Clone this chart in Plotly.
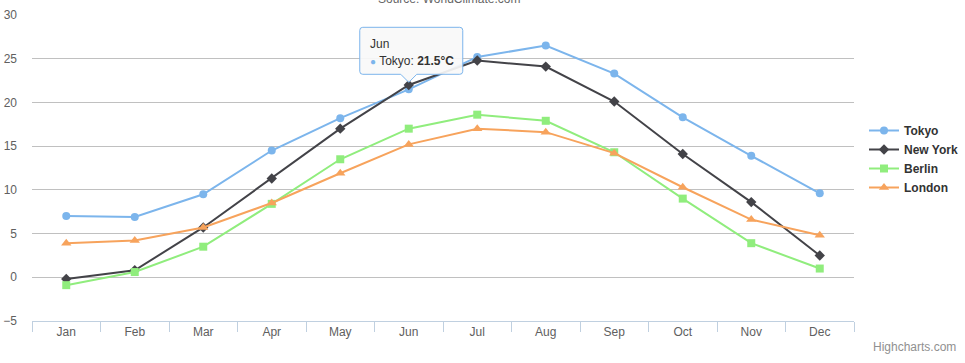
import plotly.graph_objects as go

months = ["Jan", "Feb", "Mar", "Apr", "May", "Jun", "Jul", "Aug", "Sep", "Oct", "Nov", "Dec"]
tokyo = [7.0, 6.9, 9.5, 14.5, 18.2, 21.5, 25.2, 26.5, 23.3, 18.3, 13.9, 9.6]
new_york = [-0.2, 0.8, 5.7, 11.3, 17.0, 22.0, 24.8, 24.1, 20.1, 14.1, 8.6, 2.5]
berlin = [-0.9, 0.6, 3.5, 8.4, 13.5, 17.0, 18.6, 17.9, 14.3, 9.0, 3.9, 1.0]
london = [3.9, 4.2, 5.7, 8.5, 11.9, 15.2, 17.0, 16.6, 14.2, 10.3, 6.6, 4.8]

series = [
    ("Tokyo", tokyo, "#7cb5ec", "circle", 8),
    ("New York", new_york, "#434348", "diamond", 8),
    ("Berlin", berlin, "#90ed7d", "square", 8),
    ("London", london, "#f7a35c", "triangle-up", 9),
]

W, H = 965, 363
L, R, T, B = 32, 111, 15, 42
pw, ph = W - L - R, H - T - B

def px_x(p):
    return (p - L) / pw

def px_y(p):
    return (H - B - p) / ph

fig = go.Figure()
for name, vals, color, sym, size in series:
    fig.add_trace(go.Scatter(
        x=months, y=vals, name=name, mode="lines+markers",
        line=dict(color=color, width=2),
        marker=dict(symbol=sym, size=size, color=color, line=dict(width=0)),
    ))

font_family = "Liberation Sans, Arial, sans-serif"

fig.update_layout(
    width=W, height=H,
    margin=dict(l=L, r=R, t=T, b=B, autoexpand=False),
    paper_bgcolor="white", plot_bgcolor="white",
    font=dict(family=font_family, size=12, color="#606060"),
    showlegend=True,
    legend=dict(
        x=px_x(864), y=px_y(159), xanchor="left", yanchor="middle",
        font=dict(size=12, color="#333333", family=font_family, weight="bold"),
        bgcolor="rgba(0,0,0,0)", itemwidth=30, tracegroupgap=0,
    ),
    xaxis=dict(
        type="category", range=[-0.5, 11.5], automargin=False,
        showline=True, linecolor="#C0D0E0", linewidth=1,
        ticks="outside", ticklen=10, tickcolor="#C0D0E0", tickson="boundaries",
        showgrid=False, zeroline=False,
        tickfont=dict(size=12, color="#606060"),
    ),
    yaxis=dict(
        range=[-5, 30], dtick=5, tick0=0, automargin=False,
        showgrid=True, gridcolor="#C0C0C0", gridwidth=1,
        zeroline=True, zerolinecolor="#C0C0C0", zerolinewidth=1,
        showline=False, ticks="", ticklabelstandoff=14,
        tickfont=dict(size=12, color="#606060"),
    ),
    hovermode=False,
)

# Subtitle (mostly cut off at top, as in the reference)
fig.add_annotation(
    xref="paper", yref="paper", x=px_x(449), y=px_y(-1),
    text="Source: WorldClimate.com", showarrow=False,
    xanchor="center", yanchor="middle",
    font=dict(size=12, color="#666666", family=font_family),
)

# Credits
fig.add_annotation(
    xref="paper", yref="paper", x=px_x(958), y=px_y(347),
    text="Highcharts.com", showarrow=False,
    xanchor="right", yanchor="middle",
    font=dict(size=12, color="#909090", family=font_family),
)

# Tooltip box with pointer
jun_idx = months.index("Jun")
jun_val = tokyo[jun_idx]
path = ("M -46,62 L 51,62 Q 54,62 54,59 L 54,18 Q 54,15 51,15 "
        "L 8,15 L 0,7 L -8,15 L -46,15 Q -49,15 -49,18 L -49,59 Q -49,62 -46,62 Z")
fig.add_shape(
    type="path", xref="x", yref="y",
    xsizemode="pixel", ysizemode="pixel",
    xanchor=months[jun_idx], yanchor=jun_val,
    path=path,
    fillcolor="rgba(249,249,249,0.92)",
    line=dict(color="#7cb5ec", width=1),
    layer="above",
)
fig.add_annotation(
    x=months[jun_idx], y=jun_val, xref="x", yref="y",
    text="Jun", showarrow=False, xanchor="left", yanchor="middle",
    xshift=-41, yshift=45,
    font=dict(size=12, color="#333333", family=font_family),
)
fig.add_annotation(
    x=months[jun_idx], y=jun_val, xref="x", yref="y",
    text="<span style='color:#7cb5ec;font-size:10px'>●</span> Tokyo: <b>21.5°C</b>",
    showarrow=False, xanchor="left", yanchor="middle",
    xshift=-41, yshift=28,
    font=dict(size=12, color="#333333", family=font_family),
)

fig.write_html(
    "out.html",
    config={"displayModeBar": False},
    post_script="document.body.style.margin='0';document.body.style.overflow='hidden';",
)
